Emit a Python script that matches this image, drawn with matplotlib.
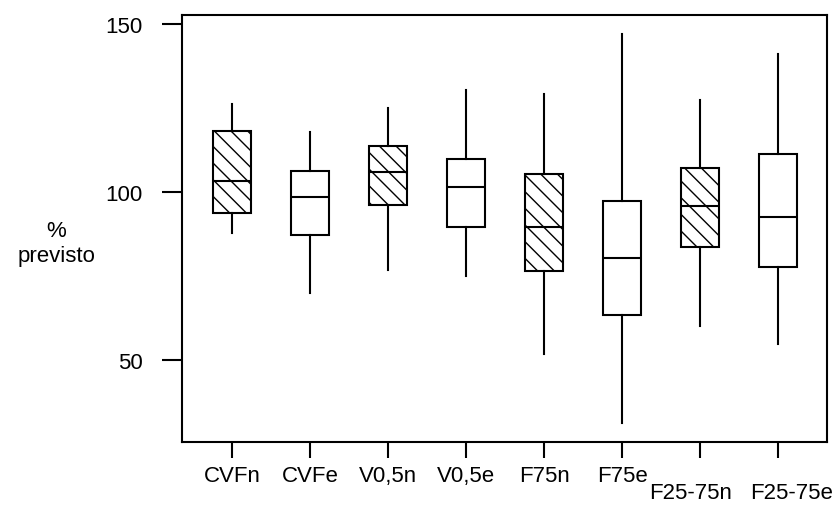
import matplotlib
matplotlib.use("Agg")
import matplotlib.pyplot as plt
import matplotlib.transforms as mtransforms

plt.rcParams['font.family'] = ['Liberation Sans', 'DejaVu Sans']

labels = ["CVFn", "CVFe", "V0,5n", "V0,5e", "F75n", "F75e", "F25-75n", "F25-75e"]
whislo = [87.8, 70.0, 76.9, 75.2, 52.0, 31.3, 60.3, 55.0]
q1     = [93.8, 87.3, 96.2, 89.7, 76.6, 63.5, 83.8, 77.8]
med    = [103.5, 98.6, 106.0, 101.6, 89.6, 80.6, 95.8, 92.7]
q3     = [118.4, 106.4, 113.8, 109.9, 105.5, 97.5, 107.2, 111.3]
whishi = [126.3, 117.9, 125.1, 130.6, 129.3, 147.2, 127.5, 141.2]
hatched = [True, False, True, False, True, False, True, False]

stats = []
for i in range(len(labels)):
    stats.append({"label": labels[i], "whislo": whislo[i], "q1": q1[i], "med": med[i],
                  "q3": q3[i], "whishi": whishi[i], "fliers": []})

fig = plt.figure(figsize=(8.38, 5.06), dpi=100)
ax = fig.add_axes([0.2175, 0.1239, 0.769, 0.8451])

positions = list(range(1, len(labels) + 1))
bp = ax.bxp(stats, positions=positions, widths=0.49, showcaps=False, patch_artist=True,
            boxprops=dict(facecolor='white', edgecolor='black', linewidth=1.5),
            whiskerprops=dict(color='black', linewidth=1.5),
            medianprops=dict(color='black', linewidth=1.5))
for box, h in zip(bp['boxes'], hatched):
    if h:
        box.set_hatch('\\\\')

ax.set_xlim(0.359, 8.62)
ax.set_ylim(25.6, 152.9)
ax.set_yticks([50, 100, 150])
ax.set_xticks(positions)
ax.set_xticklabels(labels)

for s in ax.spines.values():
    s.set_linewidth(1.5)
ax.tick_params(axis='y', length=14.4, width=1.5, pad=14, labelsize=16)
ax.tick_params(axis='x', length=11.5, width=1.5, pad=5, labelsize=16)

# stagger the last two labels down (and nudge them apart)
xlabs = ax.get_xticklabels()
for lab, dx in [(xlabs[6], -0.10), (xlabs[7], 0.13)]:
    shift = mtransforms.ScaledTranslation(dx, -0.17, fig.dpi_scale_trans)
    lab.set_transform(lab.get_transform() + shift)

fig.text(56 / 838, 1 - 244 / 506, "%\nprevisto", ha='center', va='center',
         fontsize=16, linespacing=1.2)

fig.savefig("out.png", dpi=100)
